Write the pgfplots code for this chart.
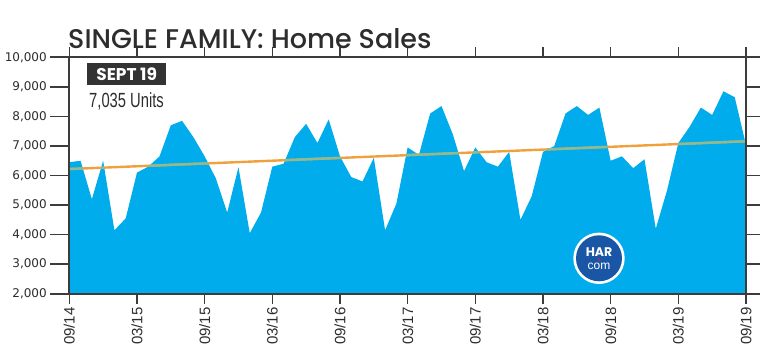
\documentclass[border=0pt]{standalone}
\usepackage{pgfplots}
\pgfplotsset{compat=1.18}
\usepackage{fontspec}
\setmainfont{Liberation Sans}
\newfontfamily\titlefont{Poppins}[UprightFont=* Medium, BoldFont=* Bold]
\newfontfamily\yfont{DejaVu Sans}
\newfontfamily\condfont{Liberation Sans}[FakeStretch=0.72]
\definecolor{harfill}{RGB}{0,172,236}
\definecolor{trend}{RGB}{240,160,60}
\definecolor{trendblue}{RGB}{142,186,148}
\definecolor{axisgray}{RGB}{60,60,60}
\definecolor{txtgray}{RGB}{45,45,45}
\definecolor{badgegray}{RGB}{51,51,51}
\definecolor{logoblue}{RGB}{26,86,166}
\definecolor{logored}{RGB}{200,40,60}
\pgfplotstableread{
x y
0 6450
1 6500
2 5200
3 6500
4 4150
5 4550
6 6100
7 6300
8 6650
9 7700
10 7850
11 7300
12 6650
13 5900
14 4750
15 6280
16 4050
17 4750
18 6300
19 6400
20 7300
21 7750
22 7100
23 7900
24 6650
25 5950
26 5800
27 6600
28 4150
29 5050
30 6950
31 6700
32 8100
33 8350
34 7400
35 6150
36 6950
37 6450
38 6300
39 6800
40 4500
41 5300
42 6800
43 7000
44 8100
45 8350
46 8050
47 8300
48 6500
49 6650
50 6250
51 6550
52 4200
53 5500
54 7100
55 7650
56 8300
57 8050
58 8850
59 8650
60 7035
}\salesdata
\begin{document}
\begin{tikzpicture}[x=1pt,y=1pt]
\path[use as bounding box] (0,0) rectangle (760,355);
\begin{axis}[
  at={(69.3pt,61.2pt)}, anchor=south west,
  scale only axis, width=676.7pt, height=236.5pt,
  xmin=0, xmax=60, ymin=2000, ymax=10000,
  axis line style={line width=1.6pt, draw=axisgray},
  xtick=\empty,
  ytick={2000,3000,...,10000},
  scaled y ticks=false,
  tick align=outside,
  major tick length=19pt,
  tick style={line width=1.6pt, draw=axisgray},
  y tick label style={font=\yfont\fontsize{12}{12}\selectfont, text=txtgray},
  /pgf/number format/assume math mode=true,
  /pgf/number format/1000 sep={,},
  axis on top,
]
\addplot[fill=harfill, draw=none] table[x=x,y=y] {\salesdata} \closedcycle;
\addplot[draw=trend, line width=2.4pt] coordinates {(0,6220) (60,7160)};
% parts of the trend line that lie over the blue area
\addplot[draw=trendblue, line width=2.4pt] coordinates {(0,6220) (1.20,6238.8)};
\addplot[draw=trendblue, line width=2.4pt] coordinates {(2.82,6264.2) (3.10,6268.6)};
\addplot[draw=trendblue, line width=2.4pt] coordinates {(7.09,6331.1) (12.32,6413.0)};
\addplot[draw=trendblue, line width=2.4pt] coordinates {(19.13,6519.7) (24.08,6597.3)};
\addplot[draw=trendblue, line width=2.4pt] coordinates {(29.86,6687.8) (34.51,6760.7)};
\addplot[draw=trendblue, line width=2.4pt] coordinates {(35.79,6780.7) (36.32,6789.0)};
\addplot[draw=trendblue, line width=2.4pt] coordinates {(42.42,6884.6) (47.74,6967.9)};
\addplot[draw=trendblue, line width=2.4pt] coordinates {(53.98,7065.7) (59.92,7158.7)};
\end{axis}
\begin{axis}[
  at={(69.3pt,61.2pt)}, anchor=south west,
  scale only axis, width=676.7pt, height=236.5pt,
  xmin=0, xmax=60, ymin=2000, ymax=10000,
  axis line style={draw=none},
  ytick=\empty,
  xtick={0,6,...,60},
  xticklabels={09/14,03/15,09/15,03/16,09/16,03/17,09/17,03/18,09/18,03/19,09/19},
  tick align=outside,
  major tick length=10pt,
  tick style={line width=1.6pt, draw=axisgray},
  x tick label style={font=\fontsize{15}{15}\selectfont, text=txtgray, rotate=90, anchor=east},
]
\end{axis}
\node[anchor=base west, inner sep=0, text=txtgray, font=\titlefont\fontsize{27}{27}\selectfont] at (68,306) {SINGLE FAMILY: Home Sales};
\node[anchor=north west, fill=badgegray, text=white, minimum width=79pt, minimum height=22.5pt, inner sep=0, font=\titlefont\bfseries\fontsize{17}{17}\selectfont] at (87,292.3) {SEPT 19};
\node[anchor=base west, inner sep=0, text=txtgray, font=\condfont\fontsize{20.5}{20.5}\selectfont] at (89,247.7) {7,035 Units};
\fill[white] (599,96.7) circle (25.7);
\fill[logoblue] (599,96.7) circle (23);
\node[anchor=base, inner sep=0, text=white, font=\titlefont\bfseries\fontsize{12.5}{12.5}\selectfont] at (599,98) {HAR};
\node[anchor=base, inner sep=0, text=white, font=\fontsize{12}{12}\selectfont] at (599,85.5) {com};
\fill[logored] (599,95.5) circle (1.4);
\end{tikzpicture}
\end{document}
